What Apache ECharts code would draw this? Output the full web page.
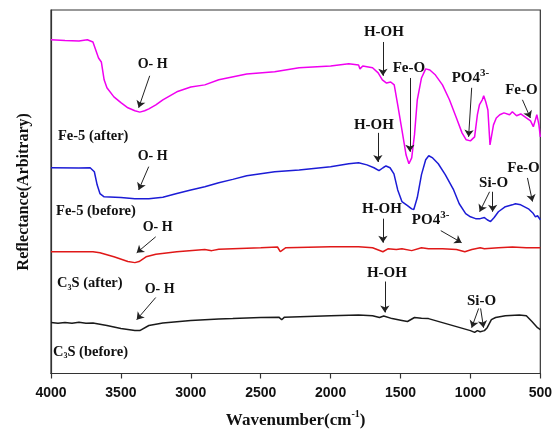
<!DOCTYPE html>
<html>
<head>
<meta charset="utf-8">
<script src="https://cdn.jsdelivr.net/npm/echarts@6/dist/echarts.min.js"></script>
<style>html,body{margin:0;padding:0;background:#fff}#c{width:555px;height:434px}</style>
</head>
<body>
<div id="c"></div>
<script>
// ---- Data (wavenumber cm^-1, reflectance in arbitrary units) ----
const fe5AfterWn = [4000,3900,3800,3740,3700,3680,3660,3640,3620,3600,3550,3500,3450,3400,3365,3330,3300,3250,3200,3100,3000,2900,2800,2600,2400,2225,2000,1870,1800,1790,1770,1700,1660,1630,1600,1570,1545,1520,1490,1460,1440,1420,1400,1380,1350,1320,1290,1250,1200,1150,1100,1060,1030,1000,970,950,935,915,905,890,875,860,850,835,815,790,760,720,700,670,640,600,570,550,535,525,510,500];
const fe5AfterR  = [91.8,91.6,91.5,91.8,91.2,89.0,86.8,85.7,80.8,78.6,76.1,74.5,73.1,72.3,71.9,72.3,72.8,73.9,75.3,77.5,78.8,79.4,80.8,82.4,83.0,84.1,84.6,85.2,84.9,83.8,84.6,84.1,82.7,80.8,79.9,80.2,79.4,73.9,67.0,60.1,57.7,59.3,65.7,75.3,81.3,83.8,83.5,82.1,79.4,75.3,70.3,66.2,64.3,64.0,65.1,71.2,74.0,75.3,76.4,74.7,72.5,62.9,62.4,68.4,70.3,71.2,71.7,71.2,72.0,70.9,71.4,70.3,69.5,67.9,69.8,71.2,68.4,65.1];

const fe5BeforeWn = [4000,3800,3720,3690,3670,3650,3620,3500,3400,3300,3200,3100,3000,2900,2800,2700,2600,2400,2225,2000,1870,1800,1740,1690,1654,1625,1604,1575,1547,1520,1490,1450,1420,1405,1380,1350,1320,1298,1270,1230,1180,1120,1080,1034,1000,963,930,900,880,856,830,800,750,700,678,640,585,550,535,520,500];
const fe5BeforeR  = [56.6,56.5,56.6,55.5,51.9,49.5,48.6,48.4,48.1,48.1,48.5,49.5,50.5,51.4,52.5,53.4,54.4,55.5,56.0,56.9,57.7,58.0,57.4,56.6,55.8,56.6,57.1,56.6,54.9,50.5,47.3,46.2,45.3,45.1,48.4,54.7,58.8,59.9,59.3,57.7,54.7,50.5,46.7,44.0,43.1,42.6,42.6,42.9,42.3,41.8,42.9,44.5,45.9,46.4,46.7,46.4,45.3,44.0,43.1,43.4,42.3];

const c3sAfterWn = [4000,3700,3650,3550,3450,3400,3370,3320,3250,3100,2900,2850,2800,2500,2380,2360,2340,2320,2000,1800,1700,1626,1590,1530,1490,1420,1350,1300,1200,1100,1040,990,930,900,800,700,600,500];
const c3sAfterR  = [33.5,33.5,33.2,32.1,30.8,30.5,30.8,32.1,32.8,33.5,34.1,33.8,34.2,34.6,34.8,33.5,34.1,34.6,34.9,34.9,34.6,33.5,34.3,34.1,34.3,33.8,34.6,34.3,34.3,34.1,33.5,34.1,34.6,34.3,34.6,34.8,34.6,34.6];

const c3sBeforeWn = [4000,3950,3900,3850,3800,3750,3700,3600,3500,3400,3365,3300,3200,3000,2800,2700,2500,2370,2350,2330,2000,1800,1700,1650,1620,1560,1490,1450,1400,1350,1300,1200,1100,1000,970,950,930,900,880,850,820,750,650,600,560,520,500];
const c3sBeforeR  = [14.0,13.8,14.0,13.8,14.1,13.8,13.9,13.2,12.4,11.8,11.8,13.2,13.9,14.6,15.0,15.1,15.4,15.5,14.8,15.5,15.9,16.1,15.9,15.4,15.8,15.1,14.6,14.3,15.4,15.2,15.1,14.0,12.9,11.8,11.3,11.8,11.5,11.8,12.6,14.8,15.4,15.9,16.1,15.9,14.3,12.6,12.1];

const xTicks = [500,1000,1500,2000,2500,3000,3500,4000];

// Annotation texts: [text(rich), wavenumber, reflectance, align]
const annoTexts = [
  ['{o|O- H}', 3273, 84.9, 'center'],
  ['{s|Fe-5 (after)}', 3950, 65.4, 'left'],
  ['{o|O- H}', 3273, 59.6, 'center'],
  ['{s|Fe-5 (before)}', 3964, 44.5, 'left'],
  ['{o|O- H}', 3237, 40.1, 'center'],
  ['{s|C}{sub|3}{s|S (after)}', 3957, 24.7, 'left'],
  ['{o|O- H}', 3223, 23.1, 'center'],
  ['{s|C}{sub|3}{s|S (before)}', 3986, 5.8, 'left'],
  ['{b|H-OH}', 1619, 94.0, 'center'],
  ['{b|Fe-O}', 1440, 84.1, 'center'],
  ['{b|PO4}{sup|3-}', 1000, 81.3, 'center'],
  ['{b|Fe-O}', 635, 78.0, 'center'],
  ['{b|H-OH}', 1690, 68.4, 'center'],
  ['{b|Fe-O}', 620, 56.6, 'center'],
  ['{b|Si-O}', 834, 52.5, 'center'],
  ['{b|H-OH}', 1633, 45.1, 'center'],
  ['{b|PO4}{sup|3-}', 1285, 42.3, 'center'],
  ['{b|H-OH}', 1597, 27.7, 'center'],
  ['{b|Si-O}', 920, 19.8, 'center']
];
// Arrows: [fromWn, fromR, toWn, toR]
const annoArrows = [
  [3294,81.9,3373,73.1],
  [3301,56.9,3373,50.5],
  [3251,37.6,3387,33.2],
  [3251,20.9,3387,14.8],
  [1626,91.2,1626,81.9],
  [1433,81.3,1433,61.0],
  [991,78.6,1013,65.1],
  [628,75.3,571,70.3],
  [1662,66.2,1662,58.2],
  [592,53.8,556,47.3],
  [863,50.0,934,44.5],
  [841,50.0,841,44.5],
  [1626,42.6,1626,36.0],
  [1212,39.3,1063,36.0],
  [1612,25.3,1612,16.8],
  [941,17.9,991,12.6],
  [927,17.9,906,12.6]
];

const zip = (a, b) => a.map((v, i) => [v, b[i]]);
const SERIF = '"Liberation Serif","Times New Roman",serif';
const SANS = '"Liberation Sans",Arial,sans-serif';

const chart = echarts.init(document.getElementById('c'), null, {renderer: 'canvas'});

const lineSeries = (name, data, color) => ({
  name, type: 'line', data, showSymbol: false, symbol: 'none',
  lineStyle: {color, width: 1.5}, itemStyle: {color},
  animation: false, silent: true
});

const arrowSeries = {
  name: 'arrows', type: 'line', data: [], silent: true, animation: false,
  markLine: {
    silent: true, animation: false,
    symbol: ['none', 'arrow'], symbolSize: 7,
    label: {show: false},
    lineStyle: {color: '#222', width: 1, type: 'solid'},
    emphasis: {disabled: true},
    data: annoArrows.map(a => [{coord: [a[0], a[1]]}, {coord: [a[2], a[3]]}])
  }
};

chart.setOption({
  backgroundColor: '#fff',
  animation: false,
  grid: {left: 51, right: 12, top: 10, bottom: 60, show: true, borderColor: '#333', borderWidth: 1.2, backgroundColor: 'transparent'},
  xAxis: {
    type: 'value', min: 500, max: 4000, interval: 500, inverse: true,
    axisLine: {show: true, lineStyle: {color: '#333', width: 1.2}},
    axisTick: {show: true, inside: false, length: 5, lineStyle: {color: '#333', width: 1.2}},
    axisLabel: {color: '#111', fontFamily: SANS, fontWeight: 'bold', fontSize: 14, margin: 13,
      formatter: v => String(v)},
    splitLine: {show: false},
    name: '{t|Wavenumber(cm}{s|-1}{t|)}',
    nameLocation: 'middle', nameGap: 36,
    nameTextStyle: {
      rich: {
        t: {fontFamily: SERIF, fontWeight: 'bold', fontSize: 17, color: '#111', lineHeight: 22},
        s: {fontFamily: SERIF, fontWeight: 'bold', fontSize: 10, color: '#111', lineHeight: 9, verticalAlign: 'top'}
      }
    }
  },
  yAxis: {
    type: 'value', min: 0, max: 100,
    axisLine: {show: true, lineStyle: {color: '#333', width: 1.2}},
    axisTick: {show: false}, axisLabel: {show: false}, splitLine: {show: false},
    name: 'Reflectance(Arbitrary)', nameLocation: 'middle', nameGap: 19,
    nameTextStyle: {fontFamily: SERIF, fontWeight: 'bold', fontSize: 16, color: '#111'}
  },
  series: [
    lineSeries('Fe-5 (after)', zip(fe5AfterWn, fe5AfterR), '#f000f0'),
    lineSeries('Fe-5 (before)', zip(fe5BeforeWn, fe5BeforeR), '#1c1cd6'),
    lineSeries('C3S (after)', zip(c3sAfterWn, c3sAfterR), '#e01818'),
    lineSeries('C3S (before)', zip(c3sBeforeWn, c3sBeforeR), '#1a1a1a'),
    arrowSeries
  ]
});

const rich = {
  o: {fontFamily: SERIF, fontWeight: 'bold', fontSize: 14, fill: '#111', lineHeight: 20},
  b: {fontFamily: SERIF, fontWeight: 'bold', fontSize: 15, fill: '#111', lineHeight: 20},
  s: {fontFamily: SERIF, fontWeight: 'bold', fontSize: 14.5, fill: '#111', lineHeight: 16},
  sup: {fontFamily: SERIF, fontWeight: 'bold', fontSize: 11, fill: '#111', lineHeight: 8, verticalAlign: 'top'},
  sub: {fontFamily: SERIF, fontWeight: 'bold', fontSize: 8, fill: '#111', lineHeight: 6, verticalAlign: 'bottom'}
};

const graphics = annoTexts.map(t => {
  const p = chart.convertToPixel({xAxisIndex: 0, yAxisIndex: 0}, [t[1], t[2]]);
  return {
    type: 'text', x: p[0], y: p[1], silent: true,
    style: {text: t[0], rich, align: t[3], verticalAlign: 'middle', fill: '#111'}
  };
});
chart.setOption({graphic: graphics});
</script>
</body>
</html>
